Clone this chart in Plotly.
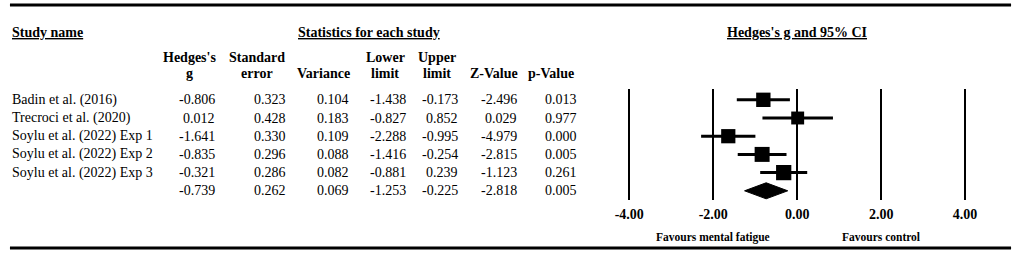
import plotly.graph_objects as go

# ---------------- data ----------------
studies = ["Badin et al. (2016)", "Trecroci et al. (2020)", "Soylu et al. (2022) Exp 1",
           "Soylu et al. (2022) Exp 2", "Soylu et al. (2022) Exp 3"]
hedges_g = [-0.806, 0.012, -1.641, -0.835, -0.321]
std_err = [0.323, 0.428, 0.330, 0.296, 0.286]
variance = [0.104, 0.183, 0.109, 0.088, 0.082]
lower = [-1.438, -0.827, -2.288, -1.416, -0.881]
upper = [-0.173, 0.852, -0.995, -0.254, 0.239]
z_value = [-2.496, 0.029, -4.979, -2.815, -1.123]
p_value = [0.013, 0.977, 0.000, 0.005, 0.261]

summary = {"g": -0.739, "se": 0.262, "var": 0.069, "lo": -1.253, "hi": -0.225, "z": -2.818, "p": 0.005}

col_headers = [("Hedges's", "g"), ("Standard", "error"), ("", "Variance"), ("Lower", "limit"),
               ("Upper", "limit"), ("", "Z-Value"), ("", "p-Value")]
tick_vals = [-4, -2, 0, 2, 4]
tick_text = ["-4.00", "-2.00", "0.00", "2.00", "4.00"]

# ---------------- layout helpers ----------------
W, H = 1021, 255
FONT = "Liberation Serif"
ROW0, ROWSTEP = 99.8, 18.2          # pixel centre of first row, row spacing


def py(p):          # pixel y -> paper y
    return 1 - p / H


def px(p):          # pixel x -> paper x
    return p / W


def row_val(p):     # pixel y -> row units
    return (p - ROW0) / ROWSTEP


fig = go.Figure()

n = len(studies)
rows = list(range(n))
weights = [1 / v for v in variance]
sizes = [11 + 0.35 * w for w in weights]

fig.add_trace(go.Scatter(
    x=hedges_g, y=rows, mode="markers",
    marker=dict(symbol="square", size=sizes, color="black", opacity=1, line=dict(width=0)),
    error_x=dict(type="data", symmetric=False,
                 array=[u - g for u, g in zip(upper, hedges_g)],
                 arrayminus=[g - l for g, l in zip(hedges_g, lower)],
                 thickness=3, width=0, color="black"),
    cliponaxis=False, showlegend=False, hoverinfo="skip"))

# summary diamond
srow = n
half = 0.44
fig.add_trace(go.Scatter(
    x=[summary["lo"], summary["g"], summary["hi"], summary["g"], summary["lo"]],
    y=[srow, srow - half, srow, srow + half, srow],
    mode="lines", fill="toself", fillcolor="black", line=dict(color="black", width=1),
    cliponaxis=False, showlegend=False, hoverinfo="skip"))

ann = []
txt = dict(family=FONT, size=14, color="black")
bold = dict(family=FONT, size=14, color="black")

# section headers
ann.append(dict(text="<b><u>Study name</u></b>", x=px(4), y=py(32), xref="paper", yref="paper",
                xanchor="left", yanchor="middle", showarrow=False, font=bold))
ann.append(dict(text="<b><u>Statistics for each study</u></b>", x=px(367), y=py(32), xref="paper",
                yref="paper", xanchor="center", yanchor="middle", showarrow=False, font=bold))
ann.append(dict(text="<b><u>Hedges's g and 95% CI</u></b>", x=0, y=py(32), xref="x",
                yref="paper", xanchor="center", yanchor="middle", showarrow=False, font=bold))

# column headers
hdr_centers = [185, 253, 321, 383, 435, 493, 550]
for (l1, l2), cx in zip(col_headers, hdr_centers):
    if l1:
        ann.append(dict(text=f"<b>{l1}</b>", x=px(cx), y=py(58), xref="paper", yref="paper",
                        xanchor="center", yanchor="middle", showarrow=False, font=bold))
    ann.append(dict(text=f"<b>{l2}</b>", x=px(cx), y=py(73), xref="paper", yref="paper",
                    xanchor="center", yanchor="middle", showarrow=False, font=bold))

# table body
right_edges = [213, 285, 348, 406, 458, 518, 579]
cols = [hedges_g, std_err, variance, lower, upper, z_value, p_value]
skeys = ["g", "se", "var", "lo", "hi", "z", "p"]
for i, name in enumerate(studies):
    ann.append(dict(text=name, x=px(4), y=i, xref="paper", yref="y", xanchor="left",
                    yanchor="middle", showarrow=False, font=txt))
    for col, rx in zip(cols, right_edges):
        ann.append(dict(text=f"{col[i]:.3f}", x=px(rx), y=i, xref="paper", yref="y",
                        xanchor="right", yanchor="middle", showarrow=False, font=txt))
for k, rx in zip(skeys, right_edges):
    ann.append(dict(text=f"{summary[k]:.3f}", x=px(rx), y=srow, xref="paper", yref="y",
                    xanchor="right", yanchor="middle", showarrow=False, font=txt))

# favours labels
fav = dict(family=FONT, size=11.5, color="black")
ann.append(dict(text="<b>Favours mental fatigue</b>", x=-2, y=py(237), xref="x", yref="paper",
                xanchor="center", yanchor="middle", showarrow=False, font=fav))
ann.append(dict(text="<b>Favours control</b>", x=2, y=py(237), xref="x", yref="paper",
                xanchor="center", yanchor="middle", showarrow=False, font=fav))

# rules
shapes = [
    dict(type="line", xref="paper", yref="paper", x0=px(4), x1=px(1015), y0=py(5), y1=py(5),
         line=dict(color="black", width=3)),
    dict(type="line", xref="paper", yref="paper", x0=px(4), x1=px(1015), y0=py(248), y1=py(248),
         line=dict(color="black", width=3)),
]

UNIT = 42.4
xr = [-4.2, 4.2]
x_left = 799 + xr[0] * UNIT
x_right = 799 + xr[1] * UNIT

fig.update_layout(
    width=W, height=H, margin=dict(l=0, r=0, t=0, b=0),
    paper_bgcolor="white", plot_bgcolor="white",
    annotations=ann, shapes=shapes,
    xaxis=dict(domain=[px(x_left), px(x_right)], range=xr, tickvals=tick_vals, ticktext=tick_text,
               showgrid=True, gridcolor="black", gridwidth=2, zeroline=False, showline=False,
               ticks="", ticklabelstandoff=4,
               tickfont=dict(family=FONT, size=14, color="black", weight="bold"),
               fixedrange=True),
    yaxis=dict(domain=[py(200), py(89)], range=[row_val(200), row_val(89)], visible=False,
               showgrid=False, zeroline=False, fixedrange=True),
)

fig.write_html("out.html", config={"displayModeBar": False},
               post_script="document.body.style.margin='0';document.body.style.overflow='hidden';")
